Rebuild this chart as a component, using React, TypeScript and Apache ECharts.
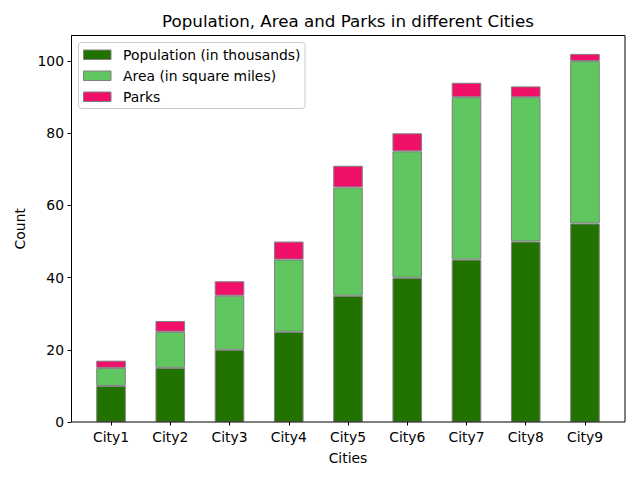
import React, { useEffect, useRef } from "react";
import * as echarts from "echarts";

const cities = ["City1", "City2", "City3", "City4", "City5", "City6", "City7", "City8", "City9"];
const population = [10, 15, 20, 25, 35, 40, 45, 50, 55];
const area = [5, 10, 15, 20, 30, 35, 45, 40, 45];
const parks = [2, 3, 4, 5, 6, 5, 4, 3, 2];
const yTicks = [0, 20, 40, 60, 80, 100];
const seriesNames = ["Population (in thousands)", "Area (in square miles)", "Parks"];
const seriesColors = ["#227200", "#60c660", "#f0106a"];

const FONT = "DejaVu Sans";
const FS = 13.9;

export default function App() {
  const ref = useRef<HTMLDivElement>(null);
  useEffect(() => {
    const chart = echarts.init(ref.current!, null, { renderer: "svg" });
    const mk = (name: string, data: number[], color: string) => ({
      name,
      type: "bar",
      stack: "s",
      data,
      barWidth: 29.6,
      itemStyle: { color, borderColor: "#808080", borderWidth: 1 },
      emphasis: { disabled: true },
    });
    const legendRows = [54.5, 75.5, 96.5];
    const legendGraphics: any[] = [
      {
        type: "rect",
        shape: { x: 78.5, y: 42.5, width: 226.5, height: 66, r: 3 },
        style: { fill: "rgba(255,255,255,0.8)", stroke: "#cccccc", lineWidth: 1 },
        z: 10,
      },
    ];
    seriesNames.forEach((n, i) => {
      legendGraphics.push({
        type: "rect",
        shape: { x: 83.5, y: legendRows[i] - 4.5, width: 27.5, height: 9.5 },
        style: { fill: seriesColors[i], stroke: "#808080", lineWidth: 1 },
        z: 11,
      });
      legendGraphics.push({
        type: "text",
        x: 123,
        y: legendRows[i],
        style: {
          text: n,
          font: `${FS}px ${FONT}`,
          fill: "#000",
          textVerticalAlign: "middle",
          textAlign: "left",
        },
        z: 11,
      });
    });
    chart.setOption({
      animation: false,
      textStyle: { fontFamily: FONT },
      grid: { left: 81.4, right: 25.4, top: 35.5, bottom: 58, containLabel: false },
      graphic: [
        {
          type: "text",
          x: 348,
          y: 21,
          style: {
            text: "Population, Area and Parks in different Cities",
            font: `16.7px ${FONT}`,
            fill: "#000",
            textAlign: "center",
            textVerticalAlign: "middle",
          },
        },
        {
          type: "rect",
          shape: { x: 71.5, y: 35.5, width: 553.5, height: 386.5 },
          style: { fill: "none", stroke: "#000", lineWidth: 1 },
          z: 5,
        },
        ...legendGraphics,
      ],
      xAxis: {
        type: "category",
        data: cities,
        name: "Cities",
        nameLocation: "middle",
        nameGap: 29,
        nameTextStyle: { fontFamily: FONT, fontSize: FS, color: "#000" },
        axisLine: { show: false },
        axisTick: { show: true, alignWithLabel: true, lineStyle: { color: "#000" }, length: 3.5 },
        axisLabel: { fontFamily: FONT, fontSize: FS, color: "#000", margin: 8 },
        splitLine: { show: false },
      },
      yAxis: {
        type: "value",
        min: 0,
        max: 107.1,
        interval: 20,
        offset: 10.4,
        name: "Count",
        nameLocation: "middle",
        nameGap: 43,
        nameTextStyle: { fontFamily: FONT, fontSize: FS, color: "#000" },
        axisLine: { show: true, lineStyle: { color: "#000" } },
        axisTick: { show: true, lineStyle: { color: "#000" }, length: 3.5 },
        axisLabel: {
          fontFamily: FONT,
          fontSize: FS,
          color: "#000",
          margin: 7,
          showMaxLabel: false,
          formatter: (v: number) => (yTicks.includes(v) ? String(v) : ""),
        },
        splitLine: { show: false },
      },
      series: seriesNames.map((n, i) => mk(n, [population, area, parks][i], seriesColors[i])),
    });
    return () => chart.dispose();
  }, []);
  return (
    <div style={{ width: 640, height: 480, position: "relative" }}>
      <div ref={ref} style={{ width: 640, height: 480, position: "absolute", left: -8, top: -8 }} />
    </div>
  );
}
